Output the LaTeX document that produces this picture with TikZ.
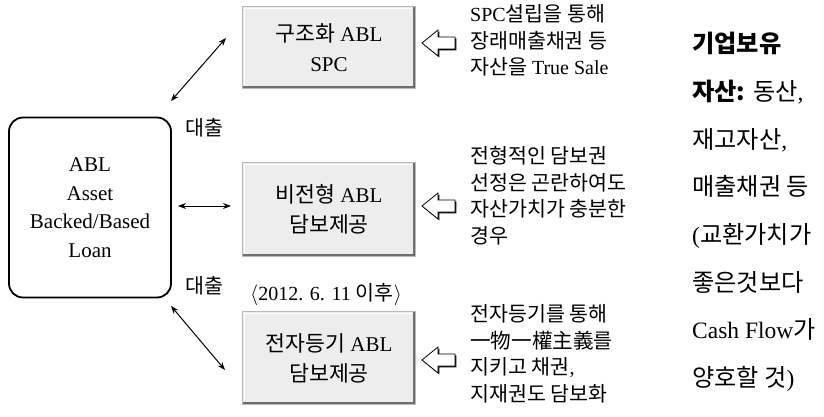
\documentclass[tikz,border=0pt]{standalone}
\usepackage{fontspec}
\setmainfont{Liberation Serif}
\newfontfamily\krfont[Scale=1.03]{Noto Sans CJK KR}
\newcommand\K[1]{{\krfont #1}}
\usetikzlibrary{arrows.meta}
\definecolor{boxfill}{HTML}{EDEDED}
\definecolor{boxedge}{HTML}{B8B8B8}
\definecolor{boxshadow}{HTML}{6E6E6E}
\tikzset{
  gbox/.style={fill=boxfill, minimum width=172pt, align=center, inner sep=0pt,
    font=\fontsize{21}{30}\selectfont},
  ablbox/.style={draw, line width=1.8pt, rounded corners=14pt, minimum width=162pt,
    minimum height=180pt, align=center, inner sep=0pt, font=\fontsize{21}{28.5}\selectfont},
  desc/.style={anchor=north west, align=left, inner sep=0pt, font=\fontsize{20}{26.5}\selectfont},
  side/.style={anchor=north west, align=left, inner sep=0pt, font=\fontsize{23.5}{47.7}\selectfont},
  lbl/.style={inner sep=0pt, font=\fontsize{20}{24}\selectfont},
  conn/.style={line width=1pt, {Stealth[length=8pt,width=6pt]}-{Stealth[length=8pt,width=6pt]}},
  hollowarrow/.pic={
    \fill[black, shift={(1.4,1.4)}] (0,0) -- (16,-13) -- (16,-6) -- (33,-6) -- (33,6) -- (16,6) -- (16,13) -- cycle;
    \filldraw[fill=white, draw=black, line width=0.8pt] (0,0) -- (16,-13) -- (16,-6) -- (33,-6) -- (33,6) -- (16,6) -- (16,13) -- cycle;
  }
}
\newcommand\boxdeco[1]{%
  \draw[line width=0.7pt, boxedge] (#1.south west) rectangle (#1.north east);
  \draw[line width=1.2pt, white] ([shift={(1.6pt,3pt)}]#1.south west) -- ([shift={(1.6pt,-1.6pt)}]#1.north west) -- ([shift={(-3pt,-1.6pt)}]#1.north east);
  \draw[line width=2.6pt, boxshadow] ([shift={(0pt,1.3pt)}]#1.south west) -- ([shift={(-1.3pt,1.3pt)}]#1.south east) -- ([shift={(-1.3pt,0pt)}]#1.north east);
}
\begin{document}
\begin{tikzpicture}[x=1pt, y=-1pt]
\useasboundingbox (0,0) rectangle (824,417);

% left rounded box
\node[ablbox] (abl) at (90,207.5) {ABL\\Asset\\Backed/Based\\Loan};

% gray boxes
\node[gbox, minimum height=81pt] (spc) at (329,47.5) {\K{구조화} ABL\\SPC};
\boxdeco{spc}
\node[gbox, minimum height=93pt] (nonstd) at (329,209.5) {\K{비전형} ABL\\\K{담보제공}};
\boxdeco{nonstd}
\node[gbox, minimum height=92pt] (ereg) at (329,358) {\K{전자등기} ABL\\\K{담보제공}};
\boxdeco{ereg}

\node[lbl] (date) at (326,295) {$\langle$2012. 6. 11 \K{이후}$\rangle$};

% connectors
\coordinate (c1a) at (171,101); \coordinate (c1b) at (226,38);
\coordinate (c2a) at (178,206); \coordinate (c2b) at (231,206);
\coordinate (c3a) at (171,306); \coordinate (c3b) at (225,370);
\draw[conn] (c1a) -- (c1b);
\draw[conn] (c2a) -- (c2b);
\draw[conn] (c3a) -- (c3b);

\node[lbl] (loan1) at (204,128) {\K{대출}};
\node[lbl] (loan2) at (204,286) {\K{대출}};

% hollow arrows
\pic at (422,43) {hollowarrow};
\pic at (422,206) {hollowarrow};
\pic at (422,360) {hollowarrow};

% descriptions
\node[desc] (d1) at (470,4.5) {SPC\K{설립을 통해}\\\K{장래매출채권 등}\\\K{자산을} True Sale};
\node[desc] (d2) at (470,146.5) {\K{전형적인 담보권}\\\K{선정은 곤란하여도}\\\K{자산가치가 충분한}\\\K{경우}};
\node[desc] (d3) at (470,304.5) {\K{전자등기를 통해}\\\K{一物一權主義를}\\\K{지키고 채권},\\\K{지재권도 담보화}};

% side column
\node[side] (s) at (692,32) {{\krfont\bfseries 기업보유}\\{\krfont\bfseries 자산:} \K{동산},\\\K{재고자산},\\\K{매출채권 등}\\(\K{교환가치가}\\\K{좋은것보다}\\Cash Flow\K{가}\\\K{양호할 것})};
\end{tikzpicture}
\end{document}
